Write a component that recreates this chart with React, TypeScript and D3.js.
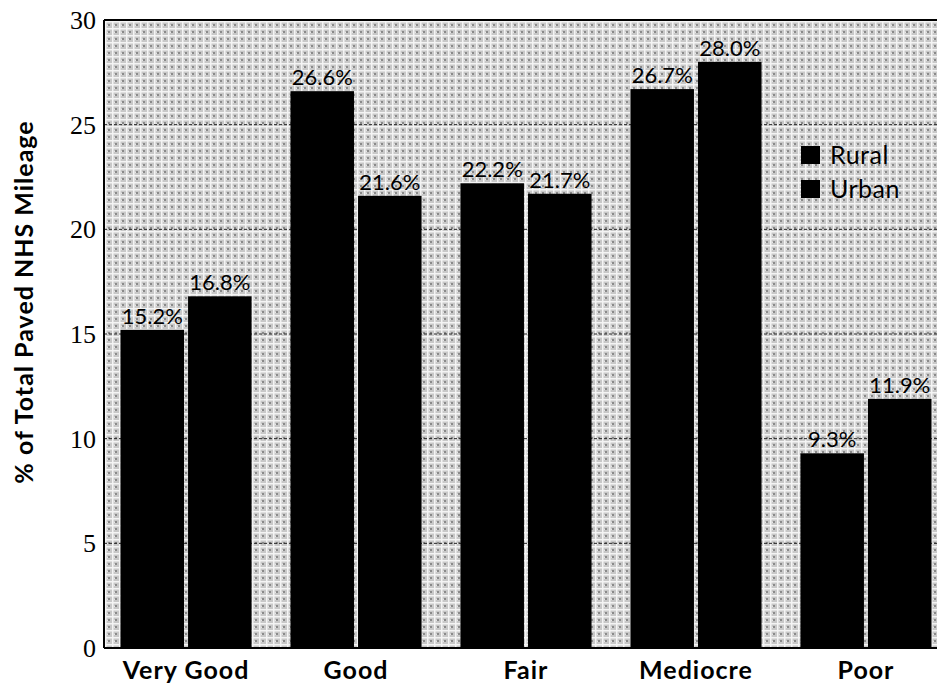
import React from "react";
import * as d3 from "d3";

const categories = ["Very Good", "Good", "Fair", "Mediocre", "Poor"];
const seriesNames = ["Rural", "Urban"];
const ruralValues = [15.2, 26.6, 22.2, 26.7, 9.3];
const urbanValues = [16.8, 21.6, 21.7, 28.0, 11.9];
const yTicks = [0, 5, 10, 15, 20, 25, 30];

const W = 937;
const H = 685;
const plotLeft = 104;
const plotTop = 20;
const plotBottom = 648;

export default function App() {
  const y = d3.scaleLinear().domain([0, 30]).range([plotBottom, plotTop]);
  const x0 = d3
    .scaleBand<string>()
    .domain(categories)
    .range([101, 951])
    .paddingInner(0.229)
    .paddingOuter(0.1147);
  const x1 = d3
    .scaleBand<string>()
    .domain(seriesNames)
    .range([0, x0.bandwidth()])
    .paddingInner(0.06);

  const rows = categories.map((c, i) => ({
    cat: c,
    vals: [
      { s: "Rural", v: ruralValues[i] },
      { s: "Urban", v: urbanValues[i] },
    ],
  }));

  const labelFont = "Lato, 'Open Sans', sans-serif";
  const numFont = "'Liberation Serif', 'DejaVu Serif', serif";

  return (
    <svg
      width={W}
      height={H}
      style={{ position: "absolute", left: 0, top: 0, background: "#fff" }}
    >
      <defs>
        <pattern id="half" width="7" height="7" patternUnits="userSpaceOnUse">
          <rect width="7" height="7" fill="#c8c8c8" />
          <rect x="0" y="0" width="7" height="1.5" fill="#f4f4f4" />
          <rect x="0" y="0" width="1.5" height="7" fill="#f4f4f4" />
          <rect x="3" y="3" width="2" height="2" fill="#8a8a8a" />
          <rect x="2" y="4" width="1" height="1" fill="#e8e8e8" />
        </pattern>
      </defs>
      <rect
        x={plotLeft}
        y={plotTop}
        width={W - plotLeft}
        height={plotBottom - plotTop}
        fill="url(#half)"
      />
      {yTicks
        .filter((t) => t > 0 && t < 30)
        .map((t) => (
          <line
            key={"g" + t}
            x1={plotLeft}
            x2={W}
            y1={y(t)}
            y2={y(t)}
            stroke="#222"
            strokeWidth={1}
            strokeDasharray="3,2"
          />
        ))}
      <line x1={plotLeft} x2={W} y1={plotTop} y2={plotTop} stroke="#000" strokeWidth={2} />
      <line x1={plotLeft} x2={plotLeft} y1={plotTop} y2={plotBottom} stroke="#000" strokeWidth={2} />
      <line x1={plotLeft} x2={W} y1={plotBottom} y2={plotBottom} stroke="#000" strokeWidth={2} />

      {rows.map((r) => (
        <g key={r.cat} transform={`translate(${x0(r.cat)},0)`}>
          {r.vals.map((d) => (
            <g key={d.s}>
              <rect
                x={x1(d.s)}
                y={y(d.v)}
                width={x1.bandwidth()}
                height={y(0) - y(d.v)}
                fill="#000"
              />
              <text
                x={(x1(d.s) as number) + x1.bandwidth() / 2}
                y={y(d.v) - 6}
                textAnchor="middle"
                fontFamily={labelFont}
                fontSize={22}
                fill="#000"
              >
                {d.v.toFixed(1)}%
              </text>
            </g>
          ))}
          <text
            x={x0.bandwidth() / 2}
            y={679}
            textAnchor="middle"
            fontFamily={labelFont}
            fontWeight="bold"
            fontSize={25}
            letterSpacing={1}
            fill="#000"
          >
            {r.cat}
          </text>
        </g>
      ))}

      {yTicks.map((t) => (
        <text
          key={"t" + t}
          x={96}
          y={y(t) + 9}
          textAnchor="end"
          fontFamily={numFont}
          fontSize={26}
          fill="#000"
        >
          {t}
        </text>
      ))}

      <text
        transform={`translate(33,302) rotate(-90)`}
        textAnchor="middle"
        fontFamily={labelFont}
        fontWeight="bold"
        fontSize={25}
        letterSpacing={1}
        fill="#000"
      >
        % of Total Paved NHS Mileage
      </text>

      {seriesNames.map((s, i) => (
        <g key={s} transform={`translate(801,${146 + i * 34})`}>
          <rect width={19} height={18} fill="#000" />
          <text
            x={29}
            y={18}
            fontFamily={labelFont}
            fontSize={25}
            letterSpacing={0.5}
            fill="#000"
          >
            {s}
          </text>
        </g>
      ))}
    </svg>
  );
}
